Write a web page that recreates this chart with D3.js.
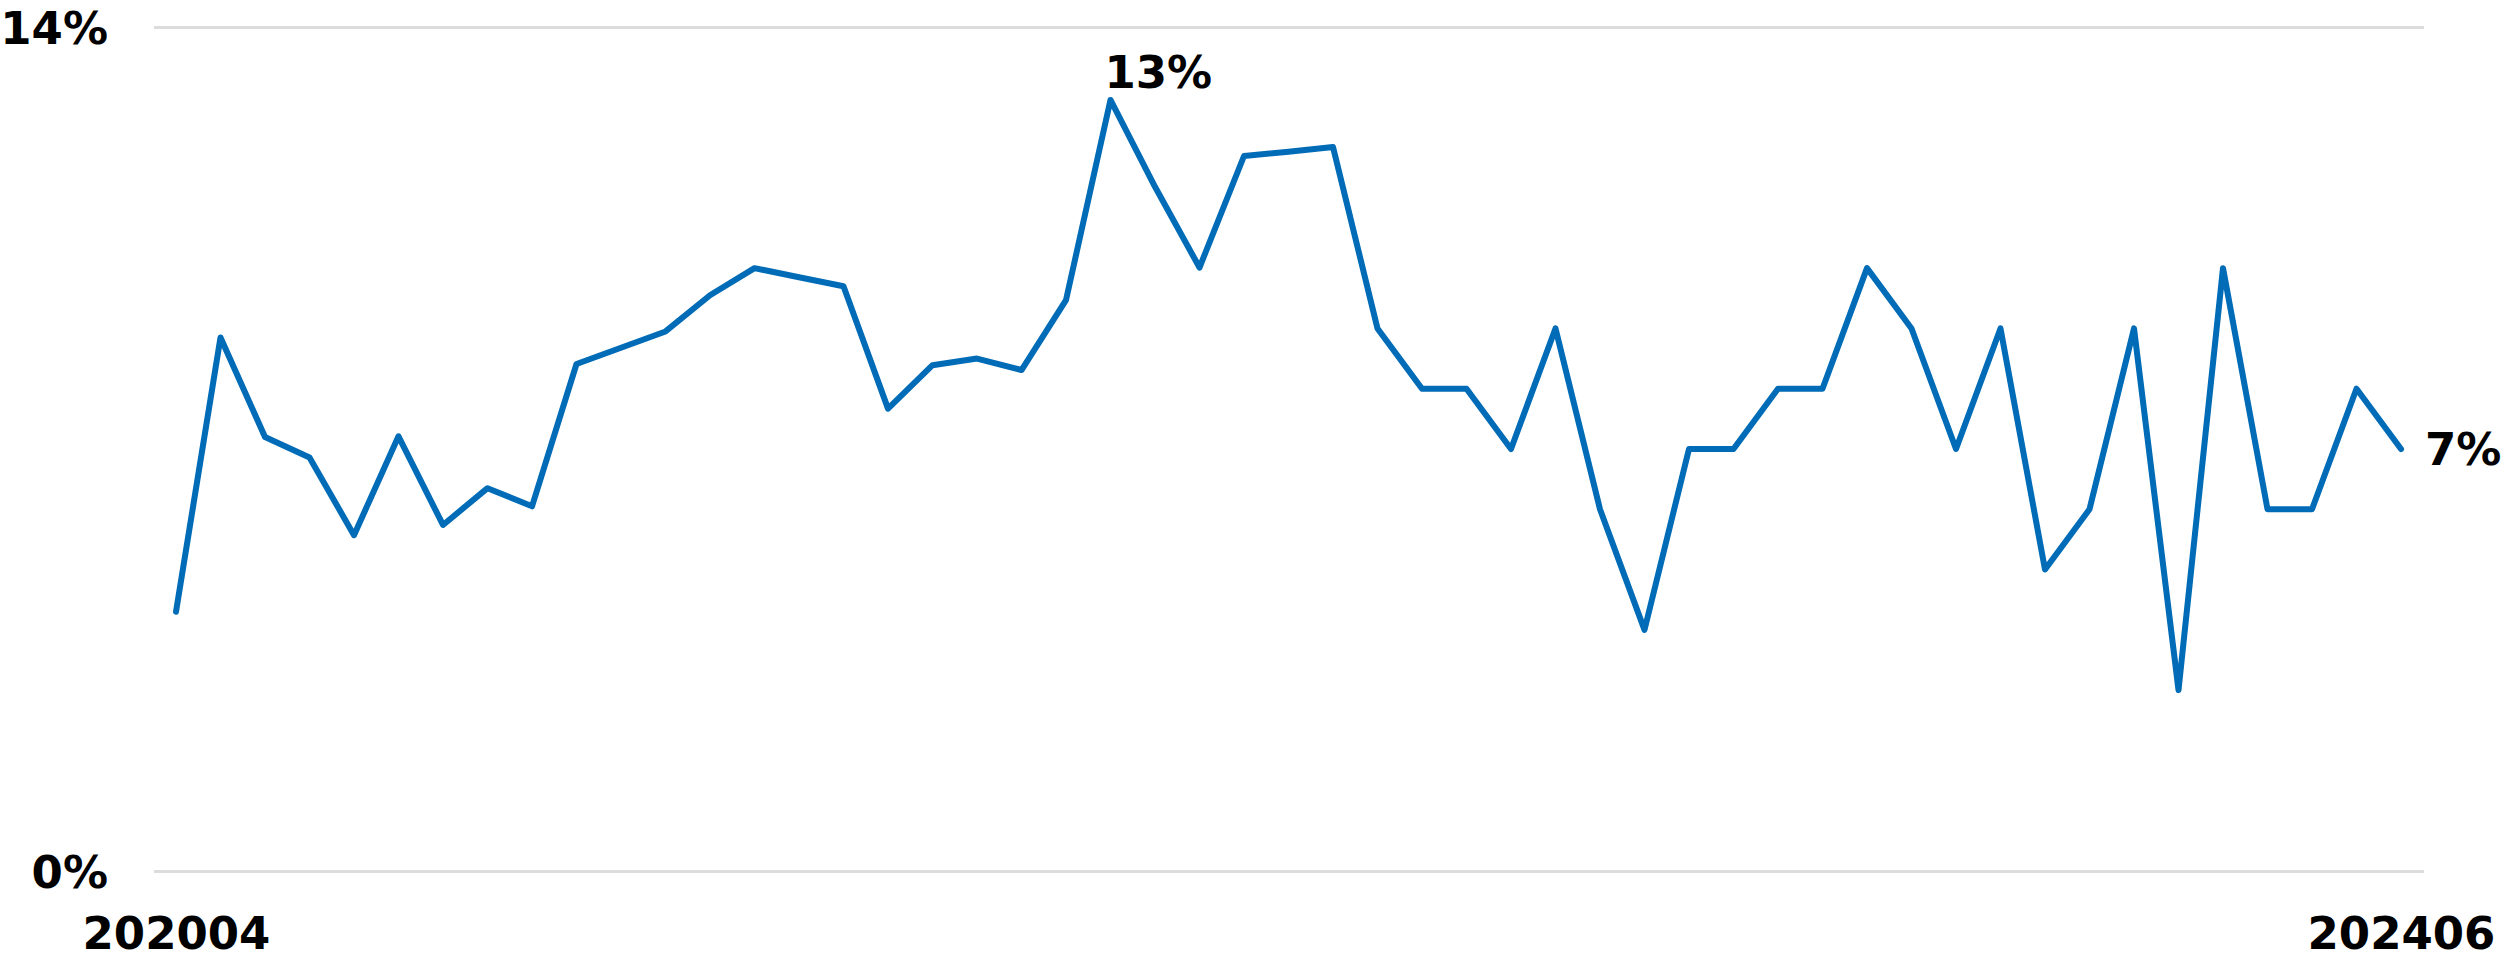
<!doctype html>
<html>
<head>
    <meta charset="utf-8">
    <title>Monthly share</title>
    <style>
        body {
            margin: 0;
            padding: 0;
            background: #fff;
        }
        svg text {
            font-family: "DejaVu Sans", "Liberation Sans", sans-serif;
            font-weight: bold;
            fill: #000;
        }
        .grid line {
            stroke: #dcdcdc;
            stroke-width: 3px;
        }
        .grid .domain, .xaxis .domain, .xaxis line {
            display: none;
        }
    </style>
</head>
<body>
    <svg id="chart" width="2512" height="953"></svg>

    <script src="https://d3js.org/d3.v7.min.js"></script>
    <script>
        // months on the x axis
        var months = [
            "202004", "202005", "202006", "202007", "202008", "202009", "202010", "202011", "202012",
            "202101", "202102", "202103", "202104", "202105", "202106", "202107", "202108", "202109", "202110", "202111", "202112",
            "202201", "202202", "202203", "202204", "202205", "202206", "202207", "202208", "202209", "202210", "202211", "202212",
            "202301", "202302", "202303", "202304", "202305", "202306", "202307", "202308", "202309", "202310", "202311", "202312",
            "202401", "202402", "202403", "202404", "202405", "202406"
        ];

        // percent values
        var values = [
            4.3, 8.85, 7.2, 6.86, 5.57, 7.21, 5.74, 6.35, 6.05,
            8.41, 8.68, 8.95, 9.55, 10.0, 9.85, 9.7, 7.67, 8.39, 8.5, 8.31, 9.47,
            12.79, 11.35, 10.01, 11.86, 11.93, 12.01, 9, 8, 8, 7, 9, 6,
            4, 7, 7, 8, 8, 10, 9, 7, 9, 5, 6, 9,
            3, 10, 6, 6, 8, 7
        ];

        var yTicks = [0, 14];
        var xTicks = ["202004", "202406"];

        var data = months.map(function(m, i) { return {month: m, value: values[i]}; });

        var gridLeft = 154, gridRight = 2424;

        var svg = d3.select("#chart");

        var x = d3.scalePoint()
            .domain(months)
            .range([176, 2401]);

        var y = d3.scaleLinear()
            .domain([0, 14])
            .range([871, 27]);

        // gridlines + y labels
        svg.append("g")
            .attr("class", "grid")
            .attr("transform", "translate(" + gridLeft + ",0)")
            .call(d3.axisLeft(y)
                .tickValues(yTicks)
                .tickSize(-(gridRight - gridLeft))
                .tickPadding(46)
                .tickFormat(function(d) { return d + "%"; }))
            .selectAll("text")
            .style("font-size", "45px")
            .attr("dy", "0.36em");

        // first / last month labels
        svg.append("g")
            .attr("class", "xaxis")
            .attr("transform", "translate(0,904)")
            .call(d3.axisBottom(x).tickValues(xTicks).tickSize(0).tickPadding(0))
            .selectAll("text")
            .style("font-size", "45px")
            .attr("dy", "1em");

        var line = d3.line()
            .x(function(d) { return x(d.month); })
            .y(function(d) { return y(d.value); });

        svg.append("path")
            .datum(data)
            .attr("d", line)
            .style("fill", "none")
            .style("stroke", "#006bb6")
            .style("stroke-width", 6)
            .style("stroke-linejoin", "round")
            .style("stroke-linecap", "round");

        // peak and last value labels
        var peak = data[d3.maxIndex(data, function(d) { return d.value; })];
        var last = data[data.length - 1];

        svg.append("text")
            .attr("x", x(peak.month) - 6)
            .attr("y", y(peak.value) - 12)
            .style("font-size", "45px")
            .text(Math.round(peak.value) + "%");

        svg.append("text")
            .attr("x", x(last.month) + 24)
            .attr("y", y(last.value))
            .attr("dy", "0.36em")
            .style("font-size", "45px")
            .text(Math.round(last.value) + "%");
    </script>
</body>
</html>
